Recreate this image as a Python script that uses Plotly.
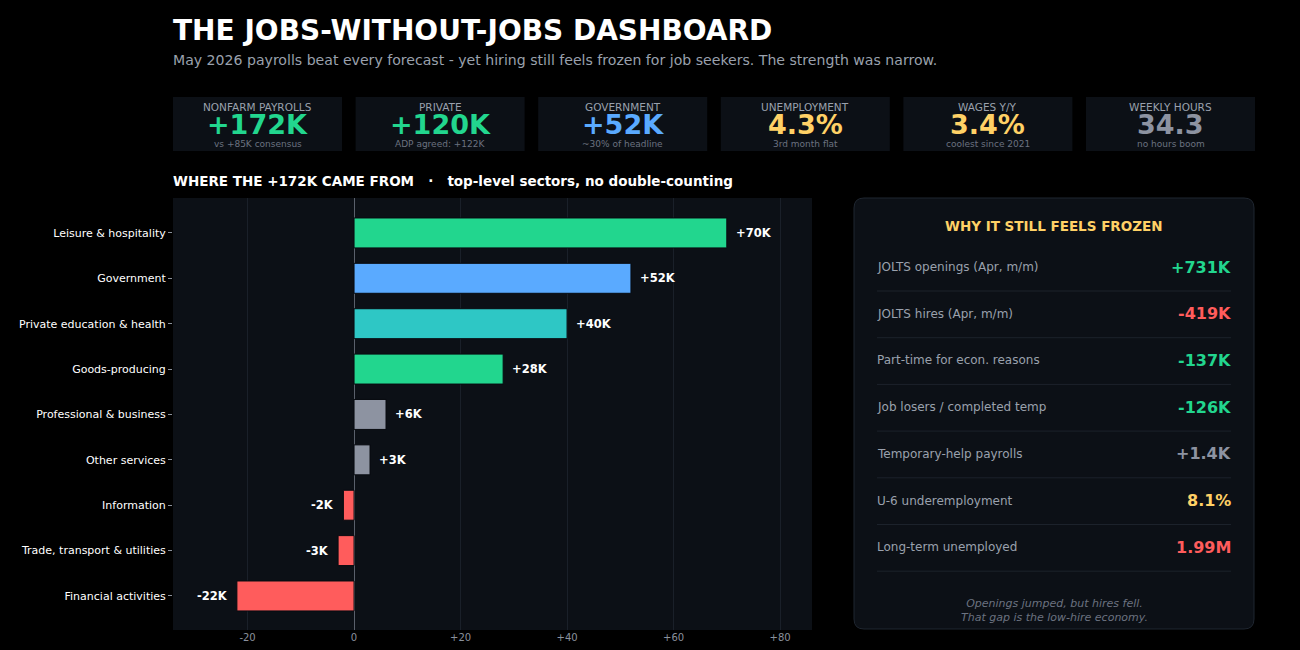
import plotly.graph_objects as go

# ---------------- data ----------------
sectors = ["Leisure & hospitality", "Government", "Private education & health",
           "Goods-producing", "Professional & business", "Other services",
           "Information", "Trade, transport & utilities", "Financial activities"]
sector_values = [70, 52, 40, 28, 6, 3, -2, -3, -22]
sector_colors = ["#22d68e", "#5aaaff", "#2ec7c5", "#22d68e", "#8d93a1", "#8d93a1",
                 "#ff5c5c", "#ff5c5c", "#ff5c5c"]

x_tickvals = [-20, 0, 20, 40, 60, 80]
x_ticktext = ["-20", "0", "+20", "+40", "+60", "+80"]

kpi_labels = ["NONFARM PAYROLLS", "PRIVATE", "GOVERNMENT", "UNEMPLOYMENT", "WAGES Y/Y", "WEEKLY HOURS"]
kpi_values = ["+172K", "+120K", "+52K", "4.3%", "3.4%", "34.3"]
kpi_subs = ["vs +85K consensus", "ADP agreed: +122K", "~30% of headline",
            "3rd month flat", "coolest since 2021", "no hours boom"]
kpi_colors = ["#22d68e", "#22d68e", "#5aaaff", "#ffd166", "#ffd166", "#8d93a1"]

panel_labels = ["JOLTS openings (Apr, m/m)", "JOLTS hires (Apr, m/m)",
                "Part-time for econ. reasons", "Job losers / completed temp",
                "Temporary-help payrolls", "U-6 underemployment", "Long-term unemployed"]
panel_values = ["+731K", "-419K", "-137K", "-126K", "+1.4K", "8.1%", "1.99M"]
panel_colors = ["#22d68e", "#ff5c5c", "#22d68e", "#22d68e", "#8d93a1", "#ffd166", "#ff5c5c"]

# ---------------- layout helpers ----------------
W, H = 1300, 650
FONT = "DejaVu Sans"
BG = "#000000"
CARD = "#0c1016"


def px(x):
    return x / W


def py(y):
    return 1 - y / H


fig = go.Figure()

fig.add_trace(go.Bar(
    y=sectors, x=sector_values, orientation="h",
    marker=dict(color=sector_colors, line=dict(color="#080b10", width=1)),
    hoverinfo="skip", width=0.66,
))

shapes = []
annotations = []

# Bar value labels
for s, v in zip(sectors, sector_values):
    annotations.append(dict(x=v, y=s, xref="x", yref="y",
                            xanchor="left" if v > 0 else "right", yanchor="middle",
                            xshift=7 if v > 0 else -7, showarrow=False,
                            text="<b>%s</b>" % (("+%dK" % v) if v > 0 else ("%dK" % v)),
                            font=dict(family=FONT, size=11.5, color="#ffffff")))

# Title & subtitle
annotations.append(dict(x=px(171), y=py(30), xref="paper", yref="paper", xanchor="left", yanchor="middle",
                        text="<b>THE JOBS-WITHOUT-JOBS DASHBOARD</b>", showarrow=False,
                        font=dict(family=FONT, size=28, color="#ffffff")))
annotations.append(dict(x=px(171), y=py(60), xref="paper", yref="paper", xanchor="left", yanchor="middle",
                        text="May 2026 payrolls beat every forecast - yet hiring still feels frozen for job seekers. The strength was narrow.",
                        showarrow=False, font=dict(family=FONT, size=14.1, color="#9aa1ad")))

# KPI cards
card_x0 = 173
card_w = 169
card_gap = 13.6
for i in range(len(kpi_labels)):
    x0 = card_x0 + i * (card_w + card_gap)
    x1 = x0 + card_w
    cx = (x0 + x1) / 2
    shapes.append(dict(type="rect", xref="paper", yref="paper", x0=px(x0), x1=px(x1),
                       y0=py(151), y1=py(97), fillcolor=CARD, line=dict(width=0), layer="below"))
    annotations.append(dict(x=px(cx), y=py(107), xref="paper", yref="paper", xanchor="center", yanchor="middle",
                            text=kpi_labels[i], showarrow=False,
                            font=dict(family=FONT, size=10.5, color="#9aa1ad")))
    annotations.append(dict(x=px(cx), y=py(125), xref="paper", yref="paper", xanchor="center", yanchor="middle",
                            text="<b>%s</b>" % kpi_values[i], showarrow=False,
                            font=dict(family=FONT, size=27, color=kpi_colors[i])))
    annotations.append(dict(x=px(cx), y=py(144), xref="paper", yref="paper", xanchor="center", yanchor="middle",
                            text=kpi_subs[i], showarrow=False,
                            font=dict(family=FONT, size=9, color="#6b7280")))

# Section title
annotations.append(dict(x=px(171), y=py(181), xref="paper", yref="paper", xanchor="left", yanchor="middle",
                        text="<b>WHERE THE +172K CAME FROM   ·   top-level sectors, no double-counting</b>",
                        showarrow=False, font=dict(family=FONT, size=13.5, color="#ffffff")))

# Right panel (rounded rectangle)
X0, X1, Y0, Y1, R = 854, 1254, 198, 629, 10
path = (f"M {px(X0+R)},{py(Y0)} L {px(X1-R)},{py(Y0)} Q {px(X1)},{py(Y0)} {px(X1)},{py(Y0+R)} "
        f"L {px(X1)},{py(Y1-R)} Q {px(X1)},{py(Y1)} {px(X1-R)},{py(Y1)} "
        f"L {px(X0+R)},{py(Y1)} Q {px(X0)},{py(Y1)} {px(X0)},{py(Y1-R)} "
        f"L {px(X0)},{py(Y0+R)} Q {px(X0)},{py(Y0)} {px(X0+R)},{py(Y0)} Z")
shapes.append(dict(type="path", xref="paper", yref="paper", path=path, fillcolor=CARD,
                   line=dict(color="#1f2630", width=1), layer="below"))
annotations.append(dict(x=px(1054), y=py(226), xref="paper", yref="paper", xanchor="center", yanchor="middle",
                        text="<b>WHY IT STILL FEELS FROZEN</b>", showarrow=False,
                        font=dict(family=FONT, size=13.5, color="#ffd166")))

row_y0 = 267
row_step = 46.7
for i in range(len(panel_labels)):
    yc = row_y0 + i * row_step
    annotations.append(dict(x=px(875), y=py(yc), xref="paper", yref="paper", xanchor="left", yanchor="middle",
                            text=panel_labels[i], showarrow=False,
                            font=dict(family=FONT, size=12, color="#9aa1ad")))
    annotations.append(dict(x=px(1233), y=py(yc), xref="paper", yref="paper", xanchor="right", yanchor="middle",
                            text="<b>%s</b>" % panel_values[i], showarrow=False,
                            font=dict(family=FONT, size=16, color=panel_colors[i])))
    ys = yc + 24
    shapes.append(dict(type="line", xref="paper", yref="paper", x0=px(877), x1=px(1231),
                       y0=py(ys), y1=py(ys), line=dict(color="#1c222b", width=1)))

annotations.append(dict(x=px(1054), y=py(610), xref="paper", yref="paper", xanchor="center", yanchor="middle",
                        text="<i>Openings jumped, but hires fell.<br>That gap is the low-hire economy.</i>",
                        showarrow=False, align="center",
                        font=dict(family=FONT, size=11, color="#6b7280")))

fig.update_layout(
    width=W, height=H,
    margin=dict(l=0, r=0, t=0, b=0),
    paper_bgcolor=BG, plot_bgcolor=CARD,
    showlegend=False,
    shapes=shapes, annotations=annotations,
    xaxis=dict(domain=[px(173), px(812)], range=[-34, 86], tickvals=x_tickvals, ticktext=x_ticktext,
               showgrid=True, gridcolor="#1a2029", gridwidth=1, zeroline=True, zerolinecolor="#5a606b",
               zerolinewidth=1, showline=False, ticks="", automargin=False,
               tickfont=dict(family=FONT, size=10, color="#8a919c")),
    yaxis=dict(domain=[py(630), py(198)], categoryorder="array", categoryarray=sectors,
               range=[8.75, -0.77], showgrid=False, zeroline=False, ticks="outside", ticklen=4,
               tickcolor="#8a919c", automargin=False,
               tickfont=dict(family=FONT, size=11, color="#ffffff")),
    font=dict(family=FONT),
)

fig.write_html("out.html")
